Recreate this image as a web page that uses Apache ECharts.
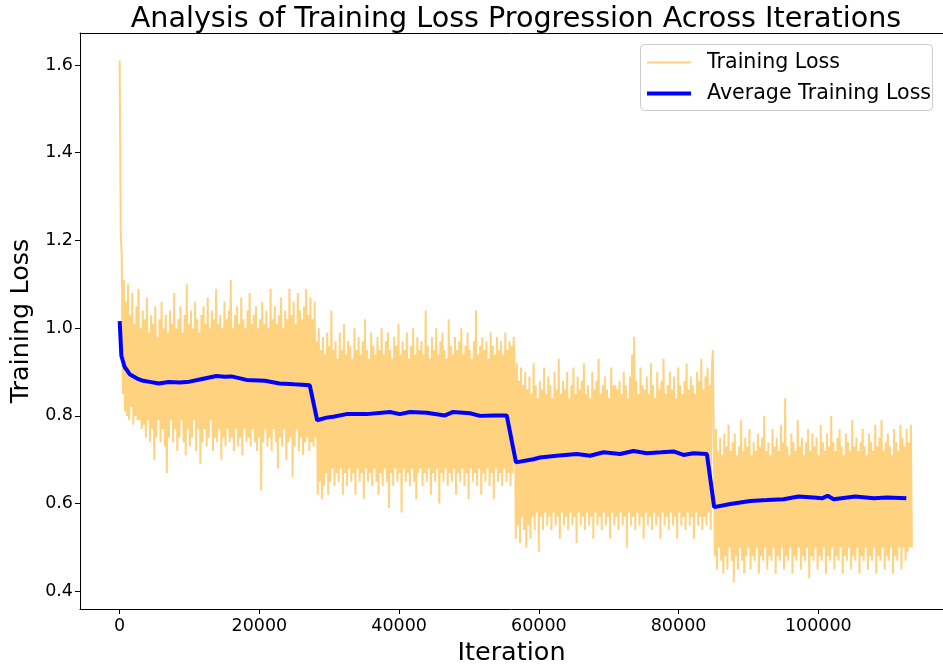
<!DOCTYPE html>
<html>
<head>
<meta charset="utf-8">
<script src="https://cdn.jsdelivr.net/npm/echarts@6/dist/echarts.min.js"></script>
<style>
  html, body { margin: 0; padding: 0; background: #fff; }
  #chart { width: 943px; height: 671px; }
</style>
</head>
<body>
<div id="chart"></div>
<script>
// ---- Data ----
const lossIterStep = 150; // iterations between plotted loss samples

const stage1Loss = [
  1.61, 1.22, 1.16, 0.85, 1.11, 0.81, 1.06, 0.80, 1.10, 0.79, 1.03, 0.82, 1.08, 0.78, 1.01, 0.80, 1.05, 0.79, 1.09, 0.79,
  1.00, 0.77, 1.04, 0.78, 1.02, 0.75, 1.07, 0.79, 0.99, 0.74, 1.03, 0.77, 1.01, 0.70, 1.05, 0.75, 0.98, 0.79, 1.02, 0.74,
  1.06, 0.77, 1.00, 0.73, 1.03, 0.67, 0.99, 0.75, 1.04, 0.79, 1.01, 0.74, 1.08, 0.77, 1.00, 0.72, 1.02, 0.75, 1.05, 0.79,
  0.99, 0.74, 1.03, 0.71, 1.10, 0.77, 1.01, 0.73, 1.04, 0.75, 1.00, 0.79, 1.06, 0.72, 1.02, 0.77, 0.99, 0.69, 1.03, 0.74,
  1.05, 0.77, 1.01, 0.73, 1.07, 0.75, 1.00, 0.79, 1.04, 0.72, 1.02, 0.75, 1.09, 0.74, 1.01, 0.77, 1.03, 0.70, 1.00, 0.75,
  1.06, 0.73, 1.02, 0.77, 1.04, 0.74, 1.11, 0.75, 1.00, 0.72, 1.03, 0.77, 1.05, 0.73, 1.01, 0.75, 1.07, 0.71, 1.02, 0.77,
  1.00, 0.74, 1.04, 0.75, 1.08, 0.73, 1.01, 0.77, 1.03, 0.74, 1.05, 0.72, 1.00, 0.75, 1.02, 0.63, 1.06, 0.74, 1.01, 0.77,
  1.04, 0.73, 1.00, 0.75, 1.09, 0.72, 1.02, 0.77, 1.05, 0.74, 1.01, 0.68, 1.03, 0.75, 1.07, 0.73, 1.00, 0.77, 1.04, 0.70,
  1.02, 0.74, 1.09, 0.75, 1.03, 0.66, 1.06, 0.73, 1.01, 0.77, 1.08, 0.72, 1.04, 0.75, 1.02, 0.71, 1.05, 0.74, 1.09, 0.75,
  1.03, 0.72, 1.07, 0.74, 1.02, 0.73, 1.06, 0.75
];
const stage2Loss = [
  0.97, 0.62, 1.00, 0.65, 0.95, 0.61, 0.98, 0.64, 0.94, 0.67, 0.99, 0.62, 0.96, 0.65, 1.04, 0.68, 0.95, 0.64, 0.97, 0.67,
  0.93, 0.65, 0.99, 0.68, 0.95, 0.62, 1.01, 0.67, 0.94, 0.64, 0.97, 0.68, 0.96, 0.65, 0.93, 0.67, 1.00, 0.62, 0.95, 0.68,
  0.98, 0.65, 0.94, 0.67, 0.97, 0.61, 1.02, 0.68, 0.95, 0.65, 0.93, 0.67, 0.99, 0.64, 0.96, 0.68, 0.94, 0.65, 0.98, 0.62,
  0.95, 0.67, 1.00, 0.64, 0.94, 0.68, 0.97, 0.65, 0.99, 0.59, 0.95, 0.67, 0.93, 0.64, 0.98, 0.68, 0.96, 0.65, 1.01, 0.67,
  0.94, 0.58, 0.97, 0.68, 0.95, 0.65, 0.99, 0.67, 0.93, 0.64, 0.96, 0.68, 1.00, 0.65, 0.94, 0.61, 0.98, 0.67, 0.95, 0.68,
  0.97, 0.64, 0.94, 0.67, 1.04, 0.65, 0.96, 0.68, 0.93, 0.62, 0.98, 0.67, 0.95, 0.65, 1.00, 0.68, 0.94, 0.60, 0.97, 0.67,
  0.99, 0.65, 0.95, 0.68, 0.93, 0.64, 1.02, 0.67, 0.96, 0.65, 0.94, 0.68, 0.98, 0.62, 0.95, 0.67, 0.97, 0.65, 1.00, 0.68,
  0.94, 0.64, 0.96, 0.67, 0.99, 0.61, 0.95, 0.68, 0.93, 0.65, 0.97, 0.67, 1.04, 0.64, 0.94, 0.68, 0.96, 0.62, 0.98, 0.67,
  0.95, 0.65, 0.97, 0.68, 0.93, 0.64, 0.99, 0.67, 0.96, 0.61, 0.94, 0.68, 0.98, 0.65, 0.95, 0.67, 0.97, 0.64, 0.94, 0.68,
  0.99, 0.65, 0.95, 0.67, 0.97, 0.64, 0.96, 0.67, 0.98
];
const stage3Loss = [
  0.90, 0.52, 0.92, 0.55, 0.88, 0.51, 0.91, 0.57, 0.87, 0.54, 0.90, 0.50, 0.86, 0.55, 0.89, 0.52, 0.85, 0.57, 0.92, 0.54,
  0.87, 0.58, 0.84, 0.49, 0.88, 0.57, 0.86, 0.54, 0.91, 0.58, 0.85, 0.55, 0.89, 0.57, 0.87, 0.54, 0.84, 0.58, 0.90, 0.55,
  0.86, 0.57, 0.93, 0.52, 0.85, 0.58, 0.88, 0.55, 0.86, 0.57, 0.90, 0.54, 0.84, 0.58, 0.87, 0.55, 0.91, 0.57, 0.85, 0.51,
  0.89, 0.58, 0.86, 0.55, 0.88, 0.57, 0.92, 0.54, 0.85, 0.58, 0.87, 0.55, 0.84, 0.57, 0.90, 0.52, 0.86, 0.58, 0.88, 0.55,
  0.93, 0.57, 0.85, 0.54, 0.87, 0.58, 0.89, 0.55, 0.86, 0.57, 0.84, 0.52, 0.91, 0.58, 0.87, 0.55, 0.87, 0.57, 0.86, 0.54,
  0.88, 0.58, 0.85, 0.55, 0.90, 0.57, 0.87, 0.50, 0.84, 0.58, 0.89, 0.55, 0.94, 0.57, 0.98, 0.54, 0.88, 0.58, 0.85, 0.55,
  0.91, 0.57, 0.87, 0.52, 0.86, 0.58, 0.89, 0.55, 0.85, 0.57, 0.92, 0.54, 0.87, 0.58, 0.84, 0.55, 0.90, 0.57, 0.86, 0.52,
  0.88, 0.58, 0.93, 0.55, 0.85, 0.57, 0.87, 0.54, 0.90, 0.58, 0.86, 0.55, 0.89, 0.57, 0.84, 0.52, 0.91, 0.58, 0.87, 0.55,
  0.85, 0.57, 0.88, 0.54, 0.92, 0.58, 0.86, 0.55, 0.89, 0.57, 0.87, 0.52, 0.85, 0.58, 0.90, 0.55, 0.88, 0.57, 0.93, 0.54,
  0.86, 0.57, 0.89, 0.55, 0.91, 0.58, 0.87, 0.54, 0.90, 0.95
];
const stage4Loss = [
  0.74, 0.48, 0.77, 0.45, 0.72, 0.50, 0.75, 0.47, 0.71, 0.44, 0.76, 0.48, 0.73, 0.45, 0.78, 0.50, 0.72, 0.47, 0.74, 0.42,
  0.76, 0.48, 0.71, 0.45, 0.73, 0.50, 0.79, 0.47, 0.72, 0.44, 0.75, 0.48, 0.73, 0.50, 0.77, 0.45, 0.71, 0.48, 0.74, 0.47,
  0.72, 0.50, 0.76, 0.44, 0.73, 0.48, 0.75, 0.47, 0.80, 0.50, 0.72, 0.45, 0.74, 0.48, 0.71, 0.47, 0.77, 0.50, 0.73, 0.44,
  0.75, 0.48, 0.72, 0.47, 0.78, 0.50, 0.74, 0.45, 0.84, 0.48, 0.73, 0.47, 0.71, 0.50, 0.76, 0.44, 0.74, 0.48, 0.72, 0.47,
  0.79, 0.50, 0.73, 0.45, 0.75, 0.48, 0.71, 0.47, 0.74, 0.50, 0.77, 0.43, 0.72, 0.48, 0.76, 0.47, 0.73, 0.50, 0.75, 0.45,
  0.71, 0.48, 0.78, 0.47, 0.74, 0.50, 0.72, 0.44, 0.76, 0.48, 0.73, 0.47, 0.80, 0.50, 0.74, 0.45, 0.72, 0.48, 0.75, 0.47,
  0.77, 0.50, 0.73, 0.44, 0.71, 0.48, 0.76, 0.47, 0.74, 0.50, 0.72, 0.45, 0.79, 0.48, 0.73, 0.47, 0.75, 0.50, 0.72, 0.44,
  0.74, 0.48, 0.77, 0.47, 0.73, 0.50, 0.71, 0.45, 0.76, 0.48, 0.74, 0.47, 0.72, 0.50, 0.78, 0.44, 0.73, 0.48, 0.75, 0.47,
  0.79, 0.50, 0.72, 0.45, 0.74, 0.48, 0.76, 0.47, 0.73, 0.50, 0.71, 0.44, 0.77, 0.48, 0.74, 0.47, 0.72, 0.50, 0.78, 0.45,
  0.75, 0.50, 0.73, 0.47, 0.77, 0.49, 0.74, 0.50, 0.78, 0.50
];

const avgIter = [
  0, 240, 700, 1430, 2500, 3340, 4500, 5590, 7000, 8600,
  10000, 11460, 13850, 15000, 16000, 18150, 20770, 22900, 25000, 27200,
  28270, 29600, 30560, 32470, 35340, 38680, 40110, 41550, 43930, 46560,
  47750, 50140, 51580, 53500, 55400, 56730, 59220, 60170, 62560, 65430,
  67340, 69250, 71630, 73540, 75450, 77500, 79270, 80700, 82140, 84050,
  85100, 87400, 90260, 92650, 95030, 97180, 99330, 100530, 101340, 102200,
  105300, 107930, 109840, 112600
];
const avgLoss = [
  1.016, 0.937, 0.912, 0.895, 0.885, 0.880, 0.877, 0.874, 0.877, 0.876,
  0.878, 0.883, 0.891, 0.889, 0.890, 0.882, 0.880, 0.874, 0.872, 0.870,
  0.790, 0.796, 0.798, 0.804, 0.804, 0.809, 0.804, 0.809, 0.807, 0.801,
  0.809, 0.806, 0.800, 0.801, 0.801, 0.694, 0.701, 0.705, 0.709, 0.713,
  0.709, 0.717, 0.713, 0.720, 0.715, 0.717, 0.719, 0.711, 0.715, 0.713,
  0.592, 0.599, 0.606, 0.608, 0.610, 0.616, 0.614, 0.612, 0.618, 0.610,
  0.616, 0.612, 0.614, 0.612
];

const xTicks = [0, 20000, 40000, 60000, 80000, 100000];
const yTicks = [0.4, 0.6, 0.8, 1.0, 1.2, 1.4, 1.6];

// ---- Build series data ----
const allLoss = stage1Loss.concat(stage2Loss, stage3Loss, stage4Loss);
const lossData = allLoss.map((v, i) => [i * lossIterStep, v]);
const avgData = avgIter.map((x, i) => [x, avgLoss[i]]);

const FONT = 'DejaVu Sans';
const ORANGE = '#FFD27F';
const BLUE = '#0000FF';
const chart = echarts.init(document.getElementById('chart'), null, { renderer: 'canvas' });

chart.setOption({
  animation: false,
  backgroundColor: '#ffffff',
  textStyle: { fontFamily: FONT, color: '#000' },
  title: {
    text: 'Analysis of Training Loss Progression Across Iterations',
    left: 511, textAlign: 'center', top: 0,
    textStyle: { fontFamily: FONT, fontSize: 28.6, fontWeight: 'normal', color: '#000' }
  },
  graphic: [{
    type: 'rect', z: 10,
    shape: { x: 640.5, y: 44.5, width: 292, height: 66, r: 4 },
    style: { fill: 'rgba(255,255,255,0.8)', stroke: '#cccccc', lineWidth: 1 }
  }],
  legend: {
    z: 20,
    orient: 'vertical',
    left: 640, top: 44,
    padding: [8, 7, 8, 7],
    itemGap: 10,
    itemWidth: 44, itemHeight: 14,
    borderWidth: 0,
    textStyle: { fontFamily: FONT, fontSize: 20.6, color: '#000', lineHeight: 20, padding: [0, 0, 0, 11] },
    data: [
      { name: 'Training Loss', icon: 'path://M0,0H44V2H0Z', itemStyle: { color: ORANGE } },
      { name: 'Average Training Loss', icon: 'path://M0,0H44V4H0Z', itemStyle: { color: BLUE } }
    ]
  },
  grid: { left: 80, top: 33, right: 0, bottom: 61, show: false, containLabel: false },
  xAxis: [
    {
      type: 'value',
      min: -5680, max: 117850,
      name: 'Iteration', nameLocation: 'middle', nameGap: 31,
      nameTextStyle: { fontFamily: FONT, fontSize: 25.5, color: '#000' },
      axisLine: { show: true, onZero: false, lineStyle: { color: '#000', width: 1 } },
      axisTick: { show: true, length: 5, lineStyle: { color: '#000' }, customValues: xTicks },
      axisLabel: { fontFamily: FONT, fontSize: 17.5, color: '#000', margin: 8, customValues: xTicks, formatter: v => String(v) },
      splitLine: { show: false }
    },
    {
      type: 'value', position: 'top',
      min: -5680, max: 117850,
      axisLine: { show: true, onZero: false, lineStyle: { color: '#000', width: 1 } },
      axisTick: { show: false }, axisLabel: { show: false }, splitLine: { show: false }
    }
  ],
  yAxis: {
    type: 'value',
    min: 0.3597, max: 1.6729,
    name: 'Training Loss', nameLocation: 'middle', nameGap: 45,
    nameTextStyle: { fontFamily: FONT, fontSize: 25.5, color: '#000' },
    axisLine: { show: true, onZero: false, lineStyle: { color: '#000', width: 1 } },
    axisTick: { show: true, length: 5, lineStyle: { color: '#000' }, customValues: yTicks },
    axisLabel: { fontFamily: FONT, fontSize: 17.5, color: '#000', margin: 7, customValues: yTicks, formatter: v => v.toFixed(1) },
    splitLine: { show: false }
  },
  series: [
    {
      name: 'Training Loss',
      type: 'line',
      data: lossData,
      symbol: 'none', showSymbol: false,
      sampling: 'none',
      lineStyle: { color: ORANGE, width: 2 },
      itemStyle: { color: ORANGE },
      z: 2
    },
    {
      name: 'Average Training Loss',
      type: 'line',
      data: avgData,
      symbol: 'none', showSymbol: false,
      lineStyle: { color: BLUE, width: 4 },
      itemStyle: { color: BLUE },
      z: 3
    }
  ]
});
</script>
</body>
</html>
